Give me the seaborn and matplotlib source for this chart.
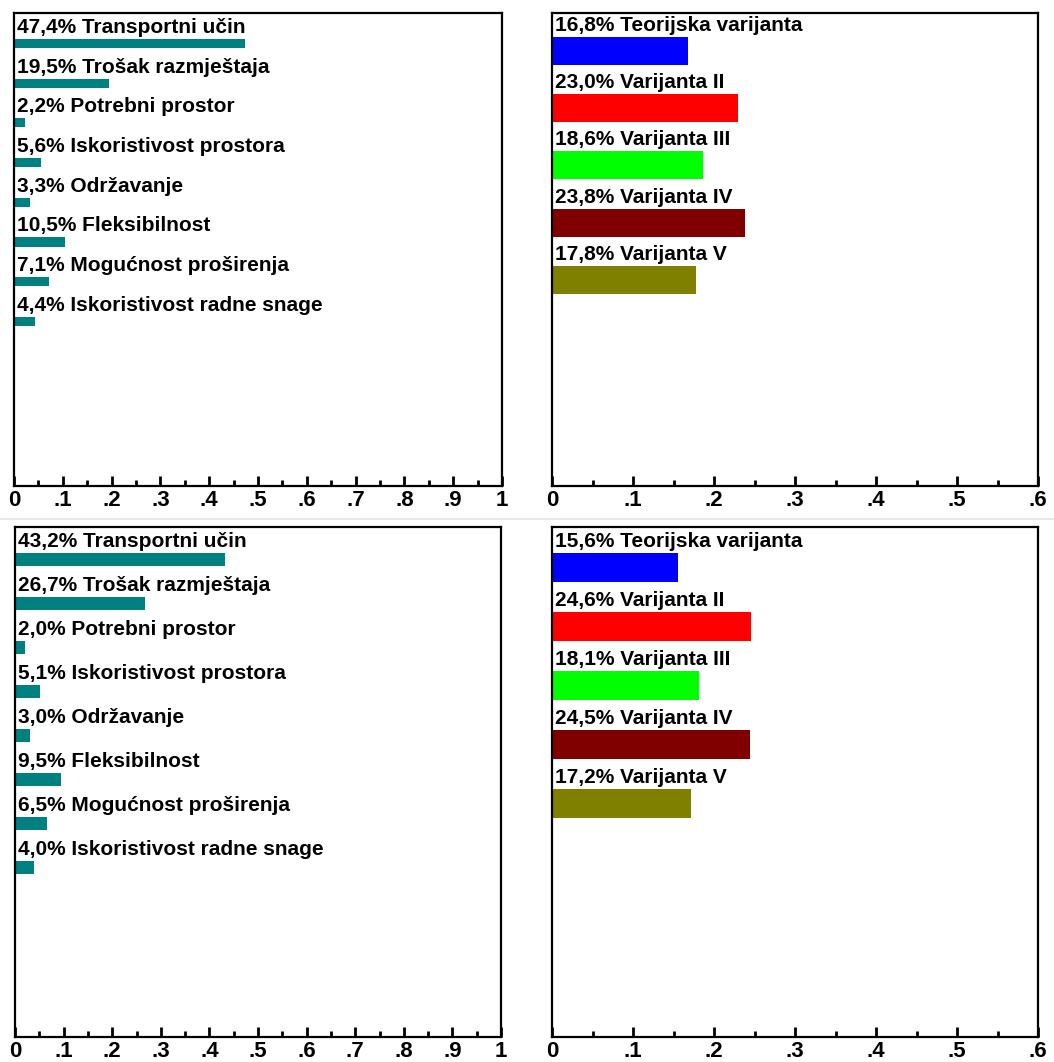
import matplotlib
matplotlib.use("Agg")
import matplotlib.pyplot as plt
from matplotlib.lines import Line2D
import seaborn as sns

# criteria weights (left panels)
criteria = ["Transportni učin", "Trošak razmještaja", "Potrebni prostor",
            "Iskoristivost prostora", "Održavanje", "Fleksibilnost",
            "Mogućnost proširenja", "Iskoristivost radne snage"]
crit_top = [0.474, 0.195, 0.022, 0.056, 0.033, 0.105, 0.071, 0.044]
crit_bot = [0.432, 0.267, 0.020, 0.051, 0.030, 0.095, 0.065, 0.040]

# variant scores (right panels)
variants = ["Teorijska varijanta", "Varijanta II", "Varijanta III",
            "Varijanta IV", "Varijanta V"]
var_top = [0.168, 0.230, 0.186, 0.238, 0.178]
var_bot = [0.156, 0.246, 0.181, 0.245, 0.172]
var_colors = ["#0000ff", "#ff0000", "#00ff00", "#800000", "#808000"]

left_ticks = [0, .1, .2, .3, .4, .5, .6, .7, .8, .9, 1]
left_labels = ["0", ".1", ".2", ".3", ".4", ".5", ".6", ".7", ".8", ".9", "1"]
right_ticks = [0, .1, .2, .3, .4, .5, .6]
right_labels = ["0", ".1", ".2", ".3", ".4", ".5", ".6"]

sns.set_style("white")
plt.rcParams['font.family'] = ['Liberation Sans', 'DejaVu Sans']

W, H = 1054, 1062
fig = plt.figure(figsize=(W / 100, H / 100), dpi=100)


def px_axes(x0, x1, y0, y1):
    # pixel box -> figure fraction
    return fig.add_axes([x0 / W, (H - y1) / H, (x1 - x0) / W, (y1 - y0) / H])


def panel(ax, names, vals, colors, bar_h, ylim, xmax, ticks, labels):
    if isinstance(colors, str):
        sns.barplot(x=vals, y=names, orient="h", color=colors, saturation=1,
                    width=bar_h, linewidth=0, ax=ax)
    else:
        sns.barplot(x=vals, y=names, hue=names, palette=colors, legend=False,
                    orient="h", saturation=1, width=bar_h, linewidth=0, ax=ax)
    for i, (n, v) in enumerate(zip(names, vals)):
        txt = f"{v * 100:.1f}".replace(".", ",") + "% " + n
        ax.annotate(txt, xy=(0, i - bar_h / 2), xytext=(3, 6),
                    textcoords="offset pixels", va="baseline", ha="left",
                    fontsize=15, fontweight="bold", color="black")
    ax.set_xlim(0, xmax)
    ax.set_ylim(*ylim)
    ax.set_xticks(ticks, labels)
    ax.set_xticks([t + 0.05 for t in ticks[:-1]], minor=True)
    ax.set_yticks([])
    ax.set_xlabel("")
    ax.set_ylabel("")
    ax.tick_params(axis="x", which="major", bottom=True, direction="in",
                   length=7, width=2, pad=3, labelsize=16, color="black",
                   labelcolor="black")
    ax.tick_params(axis="x", which="minor", bottom=True, direction="in",
                   length=4, width=2, color="black")
    for lab in ax.get_xticklabels():
        lab.set_fontweight("bold")
    for s in ax.spines.values():
        s.set_visible(True)
        s.set_color("black")
        s.set_linewidth(1.6)


ax1 = px_axes(14, 502, 13, 486)
panel(ax1, criteria, crit_top, "#008080", 0.23, (11.15, -0.77), 1,
      left_ticks, left_labels)

ax2 = px_axes(552, 1038, 13, 486)
panel(ax2, variants, var_top, var_colors, 0.49, (7.61, -0.667), 0.6,
      right_ticks, right_labels)

ax3 = px_axes(15, 501, 527, 1037)
panel(ax3, criteria, crit_bot, "#008080", 0.30, (10.86, -0.74), 1,
      left_ticks, left_labels)

ax4 = px_axes(552, 1038, 527, 1037)
panel(ax4, variants, var_bot, var_colors, 0.49, (7.96, -0.68), 0.6,
      right_ticks, right_labels)

# light separator between the two rows
fig.add_artist(Line2D([0, 1], [(H - 518.5) / H] * 2, transform=fig.transFigure,
                      color="#e8e8e8", lw=1.5))

fig.savefig("out.png", dpi=100, facecolor="white")
